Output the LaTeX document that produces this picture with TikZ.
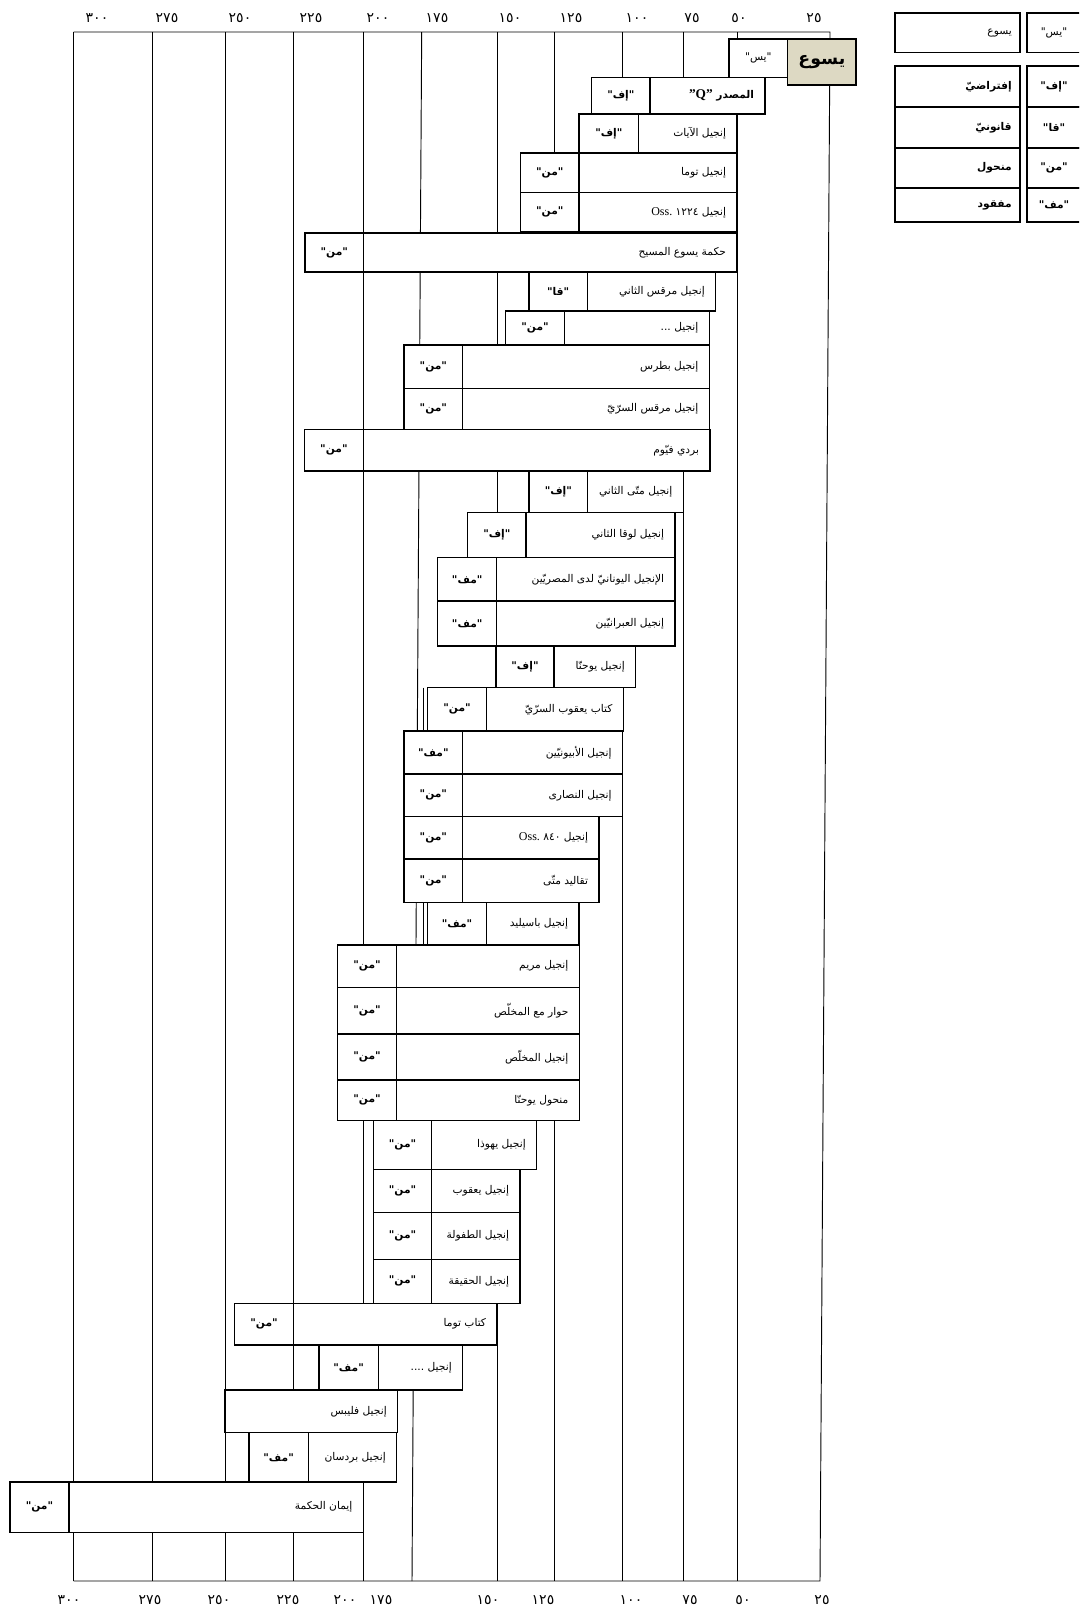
\documentclass[tikz,border=0pt]{standalone}
\usepackage{fontspec}
\setmainfont{Liberation Serif}
\newfontfamily\arfont[Script=Arabic]{DejaVu Sans}
\TeXXeTstate=1
\definecolor{tanfill}{RGB}{221,217,195}
\newcommand\titlefont{\arfont\fontsize{8}{10}\selectfont}
\newcommand\tagfont{\arfont\bfseries\fontsize{8}{10}\selectfont}
\newcommand\tagplainfont{\arfont\fontsize{8}{10}\selectfont}
\newcommand\axisfont{\arfont\fontsize{10.5}{12}\selectfont}
\tikzset{
  cell/.style={draw, fill=white, line width=0.8pt, inner sep=0pt, outer sep=0pt, anchor=north west},
  ttl/.style={anchor=east, inner sep=0pt, font=\titlefont},
  tg/.style={inner sep=0pt, font=\tagfont},
  axis/.style={inner sep=0pt, font=\axisfont},
  vline/.style={line width=0.7pt},
}
\newcommand\cellbox[6][]{\node[cell,#1,minimum width={(#5-#3)*0.75pt},minimum height={(#6-#4)*0.75pt}] (#2) at (#3,#4) {};}
\newcommand\grow[8]{%
  \cellbox{#1g}{#4}{#2}{#5}{#3}%
  \cellbox{#1b}{#5}{#2}{#6}{#3}%
  \node[tg] (#1gt) at (#1g.center) {\beginR#7\endR};%
  \node[ttl] (#1bt) at ([xshift=-8pt]#1b.east) {#8};%
}
\begin{document}
\begin{tikzpicture}[x=0.75pt,y=-0.75pt]
\useasboundingbox (0,0) rectangle (1079,1607);
\clip (0,0) rectangle (1079,1607);
\fill[white] (0,0) rectangle (1079,1607);

% grid lines
\foreach \x in {73.5,152,225,293.5,363.5,497,554.5,622.5,683.5,737.5}
  \draw[vline] (\x,32) -- (\x,1581);
\draw[vline] (421.7,32) -- (412,1581);
\draw[vline] (423.5,687.7) -- (423.5,945);
\draw[vline] (73.5,32) -- (830,32) -- (820,1581) -- (73.5,1581);

% axis labels
\foreach \x/\t [count=\i] in {97/٣٠٠,167/٢٧٥,240/٢٥٠,311/٢٢٥,378/٢٠٠,437/١٧٥,510/١٥٠,571/١٢٥,637/١٠٠,692/٧٥,739/٥٠,814/٢٥}
  \node[axis] (top\i) at (\x,18.5) {\t};
\foreach \x/\t [count=\i] in {69/٣٠٠,150/٢٧٥,219/٢٥٠,288/٢٢٥,345/٢٠٠,381/١٧٥,488/١٥٠,543/١٢٥,631/١٠٠,690/٧٥,743/٥٠,822/٢٥}
  \node[axis] (bot\i) at (\x,1600) {\t};

% Jesus
\cellbox{jesg}{729}{39}{787.7}{77.7}
\node[inner sep=0pt,font=\tagplainfont] (jesgt) at (jesg.center) {\beginR"يس"\endR};
\cellbox[fill=tanfill]{jesb}{787.7}{39}{856}{85}
\node[inner sep=0pt,font=\arfont\bfseries\fontsize{13}{15}\selectfont] (jesbt) at (jesb.center) {\beginR يسوع\endR};

% rows
\grow{q}{77.7}{114}{591.7}{650}{765}{"إف"}{\beginR\bfseries المصدر \beginL{\rmfamily\bfseries\fontsize{10}{12}\selectfont"Q"}\endL\endR}
\grow{sg}{114}{153}{579}{638.7}{737}{"إف"}{\beginR إنجيل الآيات\endR}
\grow{th}{153}{192.6}{520.5}{579}{737}{"من"}{\beginR إنجيل توما\endR}
\grow{os}{192.6}{232}{520.5}{579}{737}{"من"}{\beginR إنجيل ١٢٢٤ \beginL{\rmfamily\fontsize{9}{11}\selectfont Oss.}\endL\endR}
\grow{wj}{233}{272}{305}{363.5}{737}{"من"}{\beginR حكمة يسوع المسيح\endR}
\grow{mk}{272}{311}{529}{587.3}{715.7}{"قا"}{\beginR إنجيل مرقس الثاني\endR}
\grow{gx}{311}{345}{505.7}{564.3}{709.3}{"من"}{\beginR إنجيل ...\endR}
\grow{pe}{345}{388.3}{404}{462.7}{709.3}{"من"}{\beginR إنجيل بطرس\endR}
\grow{sm}{388.3}{429.5}{404}{462.7}{709.3}{"من"}{\beginR إنجيل مرقس السرّيّ\endR}
\grow{fy}{429.5}{471}{304.3}{363.5}{710}{"من"}{\beginR بردي فيّوم\endR}
\grow{mt}{471}{512.3}{529}{587.7}{683.3}{"إف"}{\beginR إنجيل متّى الثاني\endR}
\grow{lk}{512.3}{557.7}{467.7}{526}{675}{"إف"}{\beginR إنجيل لوقا الثاني\endR}
\grow{eg}{557.7}{601}{437.7}{496.7}{675}{"مف"}{\beginR الإنجيل اليونانيّ لدى المصريّين\endR}
\grow{hb}{601}{646}{437.7}{496.7}{675}{"مف"}{\beginR إنجيل العبرانيّين\endR}
\grow{jn}{646}{687.7}{496}{554}{635.7}{"إف"}{\beginR إنجيل يوحنّا\endR}
\grow{sj}{687.7}{731}{427.3}{486.7}{623.3}{"من"}{\beginR كتاب يعقوب السرّيّ\endR}
\grow{eb}{731}{774}{404}{462.7}{622.5}{"مف"}{\beginR إنجيل الأبيونيّين\endR}
\grow{nz}{774}{816.7}{404}{462.7}{622.5}{"من"}{\beginR إنجيل النصارى\endR}
\grow{oe}{816.7}{859}{404}{462.7}{599}{"من"}{\beginR إنجيل ٨٤٠ \beginL{\rmfamily\fontsize{9}{11}\selectfont Oss.}\endL\endR}
\grow{mtr}{859}{902.3}{404}{462.7}{599}{"من"}{\beginR تقاليد متّى\endR}
\grow{bs}{902.3}{945}{427.3}{486.7}{579}{"مف"}{\beginR إنجيل باسيليد\endR}
\grow{mr}{945}{987.3}{337.3}{396.7}{579.3}{"من"}{\beginR إنجيل مريم\endR}
\grow{dl}{987.3}{1034}{337.3}{396.7}{579.3}{"من"}{\beginR حوار مع المخلّص\endR}
\grow{sv}{1034}{1080}{337.3}{396.7}{579.3}{"من"}{\beginR إنجيل المخلّص\endR}
\grow{aj}{1080}{1120.7}{337.3}{396.7}{579.3}{"من"}{\beginR منحول يوحنّا\endR}
\grow{jd}{1120.7}{1169.3}{373.3}{431.7}{536.7}{"من"}{\beginR إنجيل يهوذا\endR}
\grow{ja}{1169.3}{1212.7}{373.3}{431.7}{520}{"من"}{\beginR إنجيل يعقوب\endR}
\grow{inf}{1212.7}{1259.3}{373.3}{431.7}{520}{"من"}{\beginR إنجيل الطفولة\endR}
\grow{tr}{1259.3}{1303.4}{373.3}{431.7}{520}{"من"}{\beginR إنجيل الحقيقة\endR}
\grow{bt}{1303.4}{1345}{234.5}{293.5}{497}{"من"}{\beginR كتاب توما\endR}
\grow{gf}{1345}{1390}{319}{378.3}{462.7}{"مف"}{\beginR إنجيل ....\endR}
\cellbox{phb}{225}{1390}{397.7}{1432.7}
\node[ttl] (phbt) at ([xshift=-8pt]phb.east) {\beginR إنجيل فليبس\endR};
\grow{bd}{1432.7}{1482}{249}{308.3}{396.7}{"مف"}{\beginR إنجيل بردسان\endR}
\grow{wf}{1482}{1532.3}{10}{69}{363.3}{"من"}{\beginR إيمان الحكمة\endR}

% legend
\cellbox{l1b}{895}{13}{1020}{52.5}
\cellbox{l1g}{1027}{13}{1100}{52.5}
\node[ttl] (l1bt) at (1012,32.7) {\beginR يسوع\endR};
\node[inner sep=0pt,font=\tagplainfont] (l1gt) at (1054,32.7) {\beginR"يس"\endR};
\foreach \ya/\yb/\tg/\tt [count=\i] in {66/107/إف/إفتراضيّ,107/148/قا/قانونيّ,148/188/من/منحول,188/222/مف/مفقود}{
  \cellbox{lb\i}{895}{\ya}{1020}{\yb}
  \cellbox{lg\i}{1027}{\ya}{1100}{\yb}
  \node[ttl,font=\tagfont] (lbt\i) at ([xshift=-6pt]lb\i.east) {\beginR\tt\endR};
  \node[tg] (lgt\i) at (1054,{(\ya+\yb)/2}) {\beginR"\tg"\endR};
}
\end{tikzpicture}
\end{document}
